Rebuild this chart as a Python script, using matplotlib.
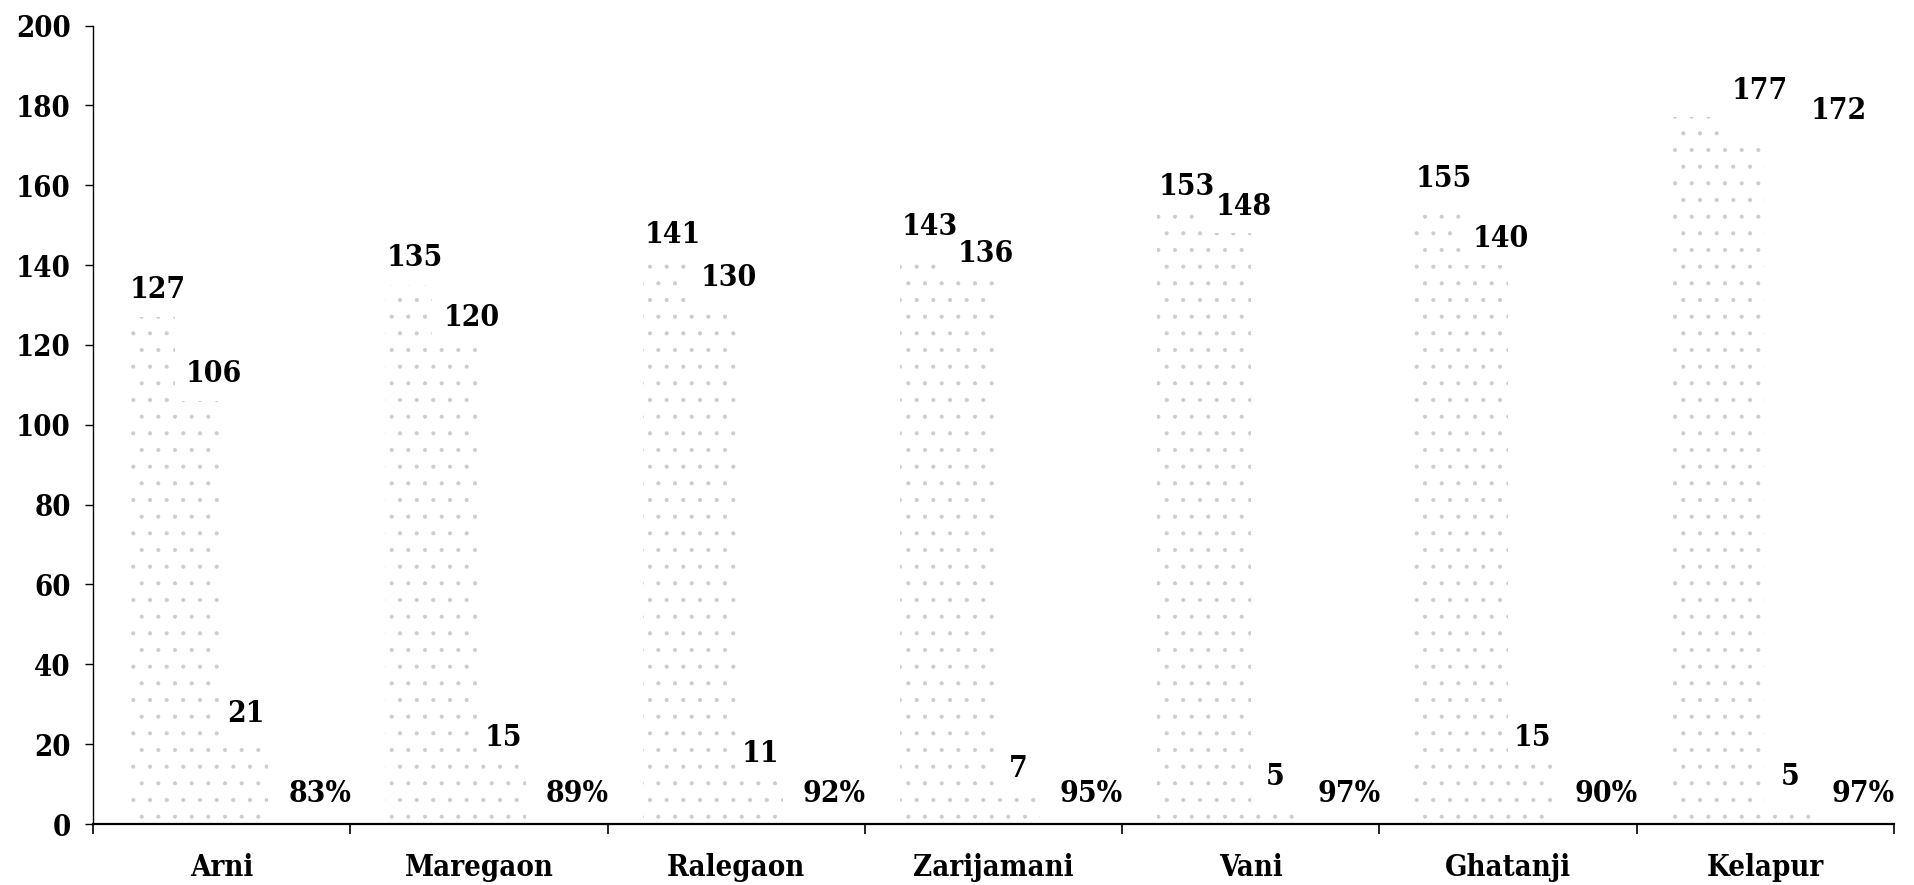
import numpy as np
import matplotlib
matplotlib.use("Agg")
import matplotlib.pyplot as plt

# block names and the four series
blocks = ["Arni", "Maregaon", "Ralegaon", "Zarijamani", "Vani", "Ghatanji", "Kelapur"]
series_a = [127, 135, 141, 143, 153, 155, 177]
series_b = [106, 120, 130, 136, 148, 140, 172]
series_c = [21, 15, 11, 7, 5, 15, 5]
percent = [83, 89, 92, 95, 97, 90, 97]

plt.rcParams['font.family'] = ['DejaVu Serif']
plt.rcParams['font.weight'] = 'bold'
plt.rcParams['font.stretch'] = 'condensed'
plt.rcParams['hatch.linewidth'] = 0.5

fig = plt.figure(figsize=(19.15, 8.85), dpi=100)
ax = fig.add_axes([0.0486, 0.0689, 0.9404, 0.9022])

x = np.arange(len(blocks))
w = 1 / 5.5
heights = [series_a, series_b, series_c, [p / 100 for p in percent]]
labels = [[str(v) for v in series_a], [str(v) for v in series_b],
          [str(v) for v in series_c], [f"{p}%" for p in percent]]
# labels sit a bit right of their bars in the original (points)
nudge = [4.5, 11.5, 0.7, 20]
# the two big Kelapur labels were dragged further right
extra = {(0, 6): 42, (1, 6): 58}

for i in range(4):
    pos = x + (i - 1.5) * w
    ax.bar(pos, heights[i], width=w, color='white', edgecolor='#cccccc',
           linewidth=0, hatch='.')
    for j, (px, h, t) in enumerate(zip(pos, heights[i], labels[i])):
        dx = nudge[i] + extra.get((i, j), 0)
        ax.annotate(t, (px, h), xytext=(dx, 19.5), textcoords='offset points',
                    ha='center', va='center', fontsize=21.5, fontweight='bold')

ax.set_xlim(-0.5, len(blocks) - 0.5)
ax.set_ylim(0, 200)
ax.set_yticks(range(0, 201, 20))
ax.set_xticks(x)
ax.set_xticklabels(blocks)
ax.set_xticks(np.arange(-0.5, len(blocks)), minor=True)
ax.tick_params(axis='x', which='major', length=0, pad=21, labelsize=21)
ax.tick_params(axis='x', which='minor', length=7, width=1.2, direction='out')
ax.tick_params(axis='y', length=6, width=1, pad=10, labelsize=21)

for s in ['top', 'right']:
    ax.spines[s].set_visible(False)
ax.spines['left'].set_linewidth(1.0)
ax.spines['bottom'].set_linewidth(1.6)

fig.savefig("out.png", dpi=100)
